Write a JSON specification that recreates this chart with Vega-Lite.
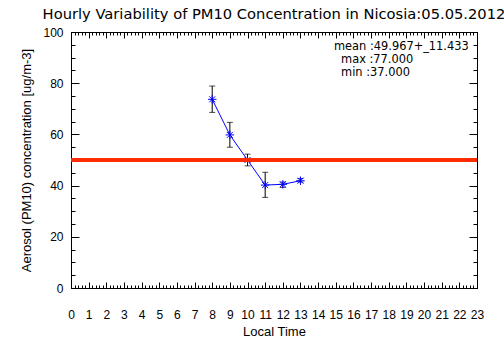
{
  "$schema": "https://vega.github.io/schema/vega-lite/v6.json",
  "width": 406,
  "height": 256,
  "autosize": {"type": "none"},
  "padding": {"left": 71, "top": 32, "right": 27, "bottom": 73},
  "background": "white",
  "config": {
    "view": {"stroke": "black", "strokeWidth": 1},
    "font": "DejaVu Sans",
    "axis": {"grid": false, "domain": false, "tickColor": "black", "labelColor": "black", "titleColor": "black", "labelFont": "Liberation Sans", "titleFont": "Liberation Sans", "labelFontSize": 12, "titleFontSize": 13, "titleFontWeight": "normal", "labelOverlap": false, "labelFlush": false, "tickWidth": 1}
  },
  "title": {"text": "Hourly Variability of PM10 Concentration in Nicosia:05.05.2012", "font": "DejaVu Sans", "fontSize": 14.7, "fontWeight": "normal", "color": "black", "anchor": "middle", "offset": 4},
  "data": {"values": [
    {"hour": 8, "pm10": 73.7, "lo": 68.6, "hi": 78.9},
    {"hour": 9, "pm10": 59.8, "lo": 55.0, "hi": 64.7},
    {"hour": 10, "pm10": 50.0, "lo": 47.7, "hi": 52.3},
    {"hour": 11, "pm10": 40.2, "lo": 35.4, "hi": 45.2},
    {"hour": 12, "pm10": 40.5, "lo": 39.3, "hi": 41.4},
    {"hour": 13, "pm10": 41.9, "lo": 41.4, "hi": 42.8}
  ]},
  "resolve": {"axis": {"x": "independent", "y": "independent"}},
  "layer": [
    {
      "mark": {"type": "errorbar", "color": "black", "ticks": {"size": 6, "color": "black"}, "rule": {"color": "black", "strokeWidth": 1}},
      "encoding": {
        "x": {"field": "hour", "type": "quantitative", "scale": {"domain": [0, 23], "nice": false, "zero": false},
          "axis": {"orient": "bottom", "title": "Local Time", "titlePadding": 5, "ticks": false, "labelPadding": 21, "labelOverlap": false, "labelBound": false,
            "values": [0,1,2,3,4,5,6,7,8,9,10,11,12,13,14,15,16,17,18,19,20,21,22,23]}},
        "y": {"field": "lo", "type": "quantitative", "scale": {"domain": [0, 100], "nice": false},
          "axis": {"orient": "left", "title": "Aerosol (PM10) concentration [ug/m-3]", "titlePadding": 9, "ticks": false, "labelPadding": 8, "labelOverlap": false,
            "values": [0,20,40,60,80,100]}},
        "y2": {"field": "hi"}
      }
    },
    {
      "mark": {"type": "line", "color": "#0000ff", "strokeWidth": 1},
      "encoding": {
        "x": {"field": "hour", "type": "quantitative",
          "axis": {"orient": "bottom", "title": null, "labels": false, "tickSize": -6,
            "values": [0,1,2,3,4,5,6,7,8,9,10,11,12,13,14,15,16,17,18,19,20,21,22,23]}},
        "y": {"field": "pm10", "type": "quantitative",
          "axis": {"orient": "left", "title": null, "labels": false, "tickSize": -8,
            "values": [0,20,40,60,80,100]}}
      }
    },
    {
      "mark": {"type": "point", "shape": "M-1,0L1,0M0,-1L0,1M-0.7,-0.7L0.7,0.7M-0.7,0.7L0.7,-0.7", "filled": false, "color": "#0000ff", "strokeWidth": 1, "size": 72, "opacity": 1},
      "encoding": {
        "x": {"field": "hour", "type": "quantitative",
          "axis": {"orient": "bottom", "title": null, "labels": false, "tickSize": -3,
            "values": [0,0.2,0.4,0.6,0.8,1,1.2,1.4,1.6,1.8,2,2.2,2.4,2.6,2.8,3,3.2,3.4,3.6,3.8,4,4.2,4.4,4.6,4.8,5,5.2,5.4,5.6,5.8,6,6.2,6.4,6.6,6.8,7,7.2,7.4,7.6,7.8,8,8.2,8.4,8.6,8.8,9,9.2,9.4,9.6,9.8,10,10.2,10.4,10.6,10.8,11,11.2,11.4,11.6,11.8,12,12.2,12.4,12.6,12.8,13,13.2,13.4,13.6,13.8,14,14.2,14.4,14.6,14.8,15,15.2,15.4,15.6,15.8,16,16.2,16.4,16.6,16.8,17,17.2,17.4,17.6,17.8,18,18.2,18.4,18.6,18.8,19,19.2,19.4,19.6,19.8,20,20.2,20.4,20.6,20.8,21,21.2,21.4,21.6,21.8,22,22.2,22.4,22.6,22.8,23]}},
        "y": {"field": "pm10", "type": "quantitative",
          "axis": {"orient": "left", "title": null, "labels": false, "tickSize": -4,
            "values": [0,5,10,15,20,25,30,35,40,45,50,55,60,65,70,75,80,85,90,95,100]}}
      }
    },
    {
      "mark": {"type": "rule", "color": "#ff2a00", "strokeWidth": 3},
      "encoding": {"y": {"datum": 50, "type": "quantitative", "axis": null}}
    },
    {
      "data": {"values": [{"label": "mean :49.967+_11.433"}]},
      "mark": {"type": "text", "align": "left", "baseline": "middle", "fontSize": 11.4, "font": "DejaVu Sans", "color": "black"},
      "encoding": {
        "x": {"datum": 14.9, "type": "quantitative",
          "axis": {"orient": "top", "title": null, "labels": false, "tickSize": -6,
            "values": [0,1,2,3,4,5,6,7,8,9,10,11,12,13,14,15,16,17,18,19,20,21,22,23]}},
        "y": {"datum": 94.1, "type": "quantitative",
          "axis": {"orient": "right", "title": null, "labels": false, "tickSize": -8,
            "values": [0,20,40,60,80,100]}},
        "text": {"field": "label"}}
    },
    {
      "data": {"values": [{"label": "max :77.000"}]},
      "mark": {"type": "text", "align": "left", "baseline": "middle", "fontSize": 11.4, "font": "DejaVu Sans", "color": "black"},
      "encoding": {
        "x": {"datum": 15.3, "type": "quantitative",
          "axis": {"orient": "top", "title": null, "labels": false, "tickSize": -3,
            "values": [0,0.2,0.4,0.6,0.8,1,1.2,1.4,1.6,1.8,2,2.2,2.4,2.6,2.8,3,3.2,3.4,3.6,3.8,4,4.2,4.4,4.6,4.8,5,5.2,5.4,5.6,5.8,6,6.2,6.4,6.6,6.8,7,7.2,7.4,7.6,7.8,8,8.2,8.4,8.6,8.8,9,9.2,9.4,9.6,9.8,10,10.2,10.4,10.6,10.8,11,11.2,11.4,11.6,11.8,12,12.2,12.4,12.6,12.8,13,13.2,13.4,13.6,13.8,14,14.2,14.4,14.6,14.8,15,15.2,15.4,15.6,15.8,16,16.2,16.4,16.6,16.8,17,17.2,17.4,17.6,17.8,18,18.2,18.4,18.6,18.8,19,19.2,19.4,19.6,19.8,20,20.2,20.4,20.6,20.8,21,21.2,21.4,21.6,21.8,22,22.2,22.4,22.6,22.8,23]}},
        "y": {"datum": 89.1, "type": "quantitative",
          "axis": {"orient": "right", "title": null, "labels": false, "tickSize": -4,
            "values": [0,5,10,15,20,25,30,35,40,45,50,55,60,65,70,75,80,85,90,95,100]}},
        "text": {"field": "label"}}
    },
    {
      "data": {"values": [{"label": "min :37.000"}]},
      "mark": {"type": "text", "align": "left", "baseline": "middle", "fontSize": 11.4, "font": "DejaVu Sans", "color": "black"},
      "encoding": {
        "x": {"datum": 15.3, "type": "quantitative", "axis": null},
        "y": {"datum": 84.0, "type": "quantitative", "axis": null},
        "text": {"field": "label"}}
    }
  ]
}
